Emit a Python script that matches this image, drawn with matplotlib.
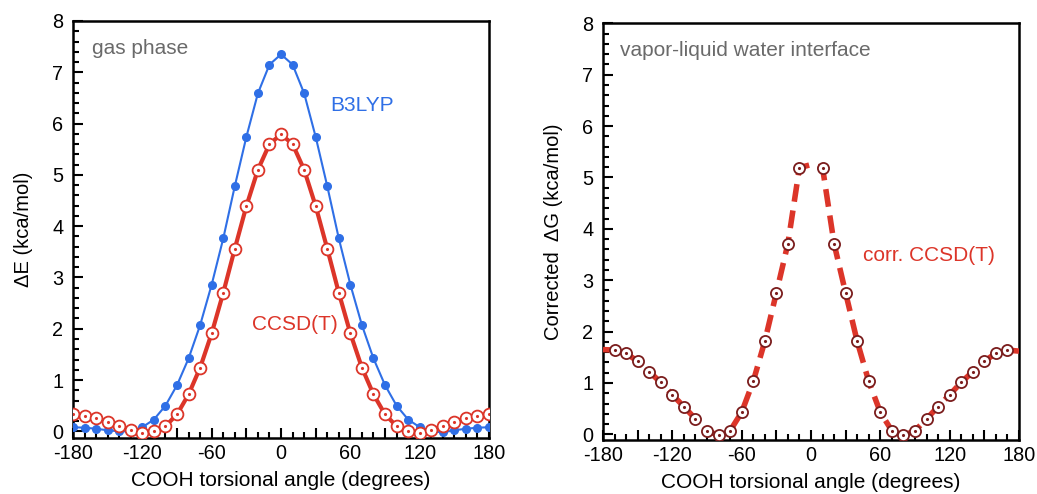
import matplotlib
matplotlib.use('Agg')
import matplotlib.pyplot as plt
from matplotlib.ticker import MultipleLocator, FixedLocator

plt.rcParams['font.family'] = ['Liberation Sans', 'DejaVu Sans']

''' torsional scan of COOH group: gas phase vs. water interface '''
angles = list(range(-180, 181, 10))

b3lyp = [0.08, 0.07, 0.05, 0.02, 0.0, 0.0, 0.08, 0.23, 0.50, 0.90, 1.42, 2.07, 2.86, 3.76, 4.78, 5.74, 6.59, 7.15, 7.35,
         7.15, 6.59, 5.74, 4.78, 3.76, 2.86, 2.07, 1.42, 0.90, 0.50, 0.23, 0.08, 0.0, -0.02, 0.02, 0.05, 0.07, 0.08]

ccsdt = [0.33, 0.30, 0.25, 0.19, 0.11, 0.02, -0.03, 0.0, 0.10, 0.33, 0.72, 1.24, 1.91, 2.70, 3.56, 4.39, 5.10, 5.60, 5.79,
         5.60, 5.10, 4.39, 3.56, 2.70, 1.91, 1.24, 0.72, 0.33, 0.10, 0.0, -0.03, 0.02, 0.11, 0.19, 0.25, 0.30, 0.33]

# interface: dashed curve over the whole range, markers skip -180, 0 and 180
corr_line = [1.65, 1.64, 1.58, 1.42, 1.22, 1.01, 0.77, 0.54, 0.30, 0.07, -0.02, 0.07, 0.43, 1.03, 1.81, 2.75, 3.71, 5.19, 5.25,
             5.19, 3.71, 2.75, 1.81, 1.03, 0.43, 0.07, -0.02, 0.07, 0.30, 0.54, 0.77, 1.01, 1.22, 1.42, 1.58, 1.64, 1.62]
corr_angles = [a for a in angles if a not in (-180, 0, 180)]
corr_pts = [v for a, v in zip(angles, corr_line) if a not in (-180, 0, 180)]

xticks = [-180, -120, -60, 0, 60, 120, 180]

blue = '#2f6fe6'
red = '#dc3529'
darkred = '#7a1c1c'
grey = '#6a6a6a'

fig = plt.figure(figsize=(10.37, 4.94), dpi=100)
ax1 = fig.add_axes([0.0704, 0.1134, 0.4012, 0.8441])
ax2 = fig.add_axes([0.5815, 0.1093, 0.4011, 0.8435])


def style(ax, ylabel, ybottom):
    ax.set_xlim(-180, 180)
    ax.set_ylim(ybottom, 8)
    ax.xaxis.set_major_locator(FixedLocator(list(range(-180, 181, 30))))
    ax.set_xticklabels([str(t) if t in xticks else '' for t in range(-180, 181, 30)])
    ax.xaxis.set_minor_locator(MultipleLocator(10))
    ax.yaxis.set_major_locator(MultipleLocator(1))
    ax.yaxis.set_minor_locator(MultipleLocator(0.2))
    ax.tick_params(which='both', direction='in', top=False, right=False, width=1.5, labelsize=14.3, colors='black')
    ax.tick_params(which='major', length=7, pad=7)
    ax.tick_params(axis='x', which='major', pad=4)
    ax.tick_params(which='minor', length=4)
    for sp in ax.spines.values():
        sp.set_linewidth(1.8)
    ax.set_xlabel('COOH torsional angle (degrees)', fontsize=15, labelpad=6)
    ax.set_ylabel(ylabel, fontsize=14.5, labelpad=14)


style(ax1, 'ΔE (kca/mol)', -0.13)
style(ax2, 'Corrected  ΔG (kca/mol)', -0.11)

ax1.plot(angles, b3lyp, color=blue, lw=1.5, marker='o', ms=5.5, mfc=blue, mec=blue, zorder=3)
ax1.plot(angles, ccsdt, color=red, lw=3, marker='o', ms=8.5, mfc='white', mec=red, mew=1.3, zorder=4)
ax1.plot(angles, ccsdt, ls='none', marker='.', ms=2.5, color=red, zorder=5)

ax1.text(-163.5, 7.47, 'gas phase', color=grey, fontsize=15, va='center')
ax1.text(42.5, 6.36, 'B3LYP', color=blue, fontsize=15, va='center')
ax1.text(-25, 2.09, 'CCSD(T)', color=red, fontsize=15, va='center')

ax2.plot(angles, corr_line, color=red, lw=4, ls=(0, (3.2, 1.6)), zorder=3)
ax2.plot(corr_angles, corr_pts, ls='none', marker='o', ms=8, mfc='white', mec=darkred, mew=1.3, zorder=4)
ax2.plot(corr_angles, corr_pts, ls='none', marker='.', ms=2.5, color=darkred, zorder=5)

ax2.text(-165.3, 7.48, 'vapor-liquid water interface', color=grey, fontsize=15, va='center')
ax2.text(45, 3.49, 'corr. CCSD(T)', color=red, fontsize=15, va='center')

plt.savefig('out.png', dpi=100)
